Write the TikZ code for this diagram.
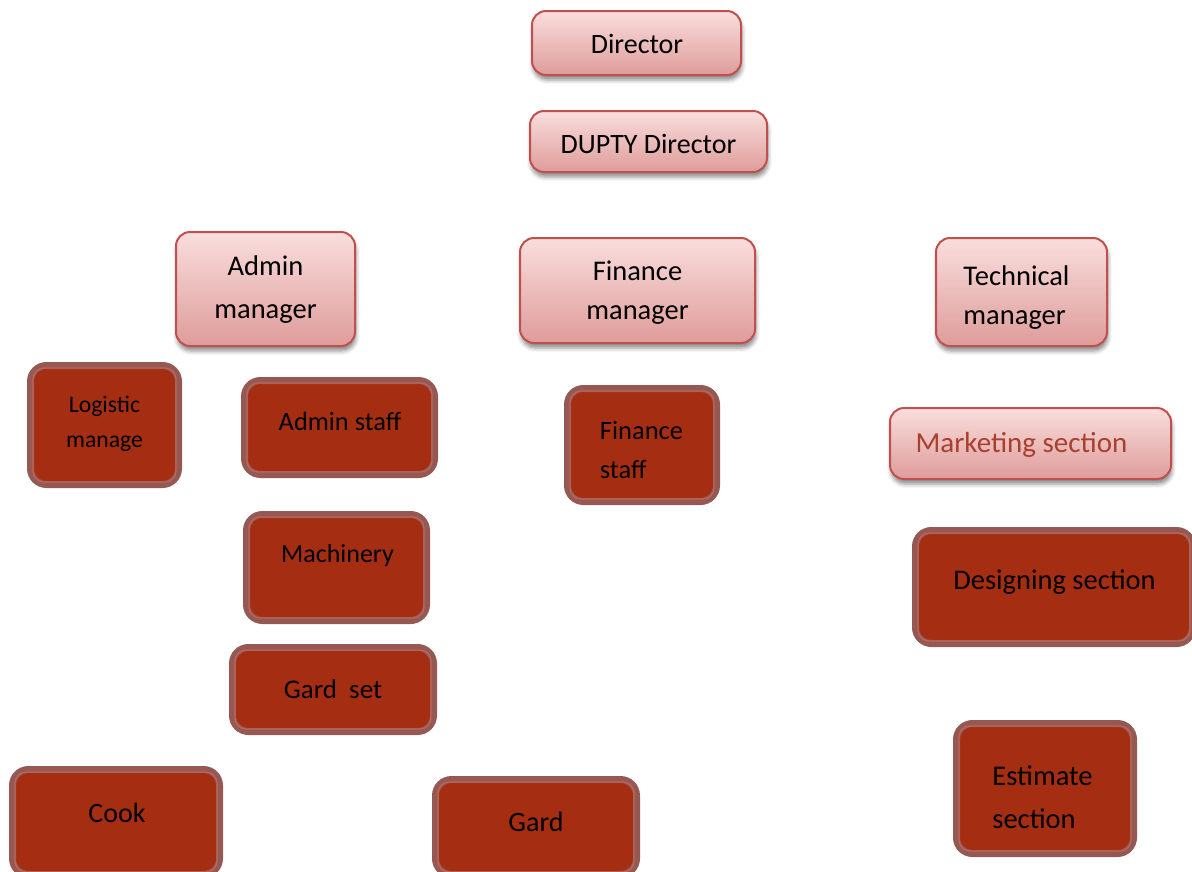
\documentclass[tikz,border=0pt]{standalone}
\usepackage{fontspec}
\setmainfont{Carlito}
\usetikzlibrary{shadows.blur}
\definecolor{pinktop}{HTML}{F9DEDD}
\definecolor{pinkbot}{HTML}{DE9C9A}
\definecolor{pinkedge}{HTML}{C0504D}
\definecolor{ringc}{HTML}{965852}
\definecolor{darkfill}{HTML}{A52D11}
\definecolor{innerc}{HTML}{B8685E}
\definecolor{redtext}{HTML}{A8402E}
\tikzset{
  pinkbox/.style={draw=pinkedge, line width=2pt, rounded corners=14pt,
    top color=pinktop, bottom color=pinkbot,
    blur shadow={shadow xshift=1pt, shadow yshift=-5pt, shadow blur radius=4pt, shadow opacity=45},
    align=center, inner sep=0pt, font=\fontsize{28}{40}\selectfont},
  darkbox/.style={draw=ringc, line width=7pt, fill=darkfill, rounded corners=16pt, inner sep=0pt},
  inline/.style={draw=innerc, line width=1.2pt, rounded corners=11pt},
  lbl/.style={inner sep=0pt, align=center, font=\fontsize{28}{40}\selectfont}
}
\begin{document}
\begin{tikzpicture}[x=1pt,y=-1pt]
\useasboundingbox (0,0) rectangle (1192,871);
\clip (0,0) rectangle (1192,871);
% pink boxes
\node[pinkbox, minimum width=209pt, minimum height=64pt] (dir) at (636.5,43) {};
\node[lbl] (tdir) at (637,44) {Director};
\node[pinkbox, minimum width=237pt, minimum height=61pt] (dup) at (648.5,141.5) {};
\node[lbl] (tdup) at (648.5,144) {DUPTY Director};
\node[pinkbox, minimum width=179pt, minimum height=114pt] (adm) at (265.5,289) {};
\node[lbl, font=\fontsize{28.5}{43}\selectfont] (tadm) at (265.5,290) {Admin\\manager};
\node[pinkbox, minimum width=235pt, minimum height=105pt] (fin) at (637.5,290.5) {};
\node[lbl, font=\fontsize{28.5}{39}\selectfont] (tfin) at (637.5,293) {Finance\\manager};
\node[pinkbox, minimum width=171pt, minimum height=108pt] (tec) at (1021.5,292) {};
\node[lbl, align=left, font=\fontsize{28.5}{39}\selectfont] (ttec) at (1016.5,298) {Technical\\manager};
\node[pinkbox, minimum width=281pt, minimum height=71pt] (mkt) at (1030.5,443.5) {};
\node[lbl, text=redtext, font=\fontsize{29}{40}\selectfont] (tmkt) at (1021.5,445) {Marketing section};
% dark boxes
\node[darkbox, minimum width=148pt, minimum height=119pt] (log) at (104.5,425) {};
\node[darkbox, minimum width=190pt, minimum height=94pt] (ast) at (339.5,427.5) {};
\node[darkbox, minimum width=149pt, minimum height=113pt] (fst) at (642,445) {};
\node[darkbox, minimum width=180pt, minimum height=106pt] (mac) at (336.5,567.5) {};
\node[darkbox, minimum width=201pt, minimum height=84pt] (gst) at (333,689.5) {};
\node[darkbox, minimum width=207pt, minimum height=105pt] (cook) at (116,822) {};
\node[darkbox, minimum width=201pt, minimum height=95pt] (gard) at (536,827) {};
\node[darkbox, minimum width=277pt, minimum height=113pt] (des) at (1054,587) {};
\node[darkbox, minimum width=177pt, minimum height=130pt] (est) at (1045,788.5) {};
\foreach \n in {log,ast,fst,mac,gst,cook,gard,des,est}
  \draw[inline] ([shift={(6pt,-6pt)}]\n.north west) rectangle ([shift={(-6pt,6pt)}]\n.south east);
% texts in dark boxes
\node[lbl, font=\fontsize{23.7}{35}\selectfont] (tlog) at (104.5,424) {Logistic\\manage};
\node[lbl, font=\fontsize{26.4}{38}\selectfont] (tast) at (340,421) {Admin staff};
\node[lbl, align=left, font=\fontsize{26.5}{39}\selectfont] (tfst) at (641.5,450) {Finance\\staff};
\node[lbl, font=\fontsize{26}{38}\selectfont] (tmac) at (337.5,556) {Machinery};
\node[lbl, font=\fontsize{27}{38}\selectfont] (tgst) at (333,689) {Gard\ \ set};
\node[lbl] (tcook) at (117,813) {Cook};
\node[lbl] (tgard) at (536,822) {Gard};
\node[lbl, font=\fontsize{28.5}{38}\selectfont] (tdes) at (1054.5,582) {Designing section};
\node[lbl, align=left, font=\fontsize{28.5}{43}\selectfont] (test) at (1042.5,797) {Estimate\\section};
\end{tikzpicture}
\end{document}
